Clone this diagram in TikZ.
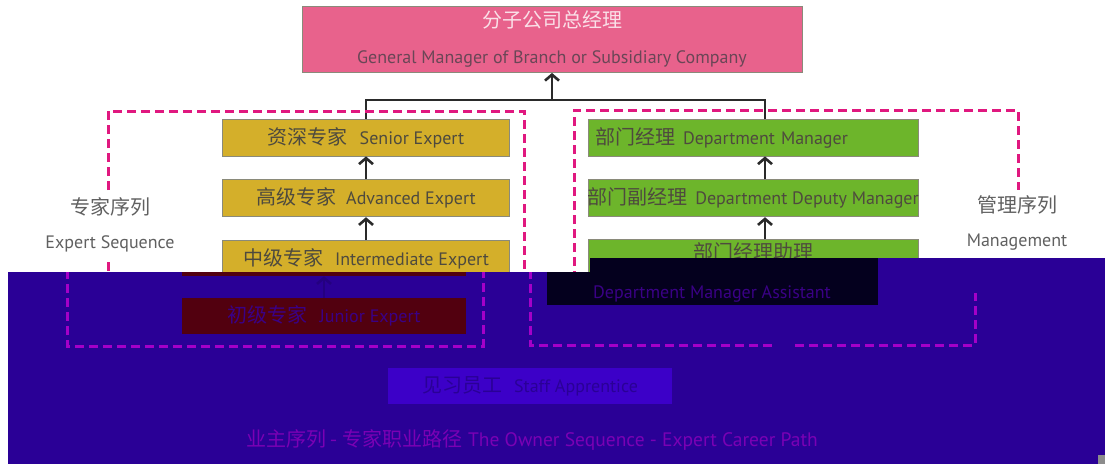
\documentclass[tikz,border=0pt]{standalone}
\usepackage{fontspec}
\setmainfont{PT Sans}
\newfontfamily\cjk{Noto Sans CJK SC}
\usetikzlibrary{arrows.meta,positioning}

\definecolor{gmpink}{HTML}{E8628C}
\definecolor{gmzh}{HTML}{FAE0E8}
\definecolor{gmen}{HTML}{6A4656}
\definecolor{expgold}{HTML}{D4AF2A}
\definecolor{mgrgreen}{HTML}{6DB52B}
\definecolor{boxline}{HTML}{8A8A7A}
\definecolor{boxtext}{HTML}{4E4A3E}
\definecolor{linkgray}{HTML}{2A2A2A}
\definecolor{dashpink}{HTML}{E0187F}
\definecolor{labelgray}{HTML}{606060}
% colours of the damaged lower band
\definecolor{glitchblue}{HTML}{2A0096}
\definecolor{glitchdash}{HTML}{A400C8}
\definecolor{glitchgold}{HTML}{52000F}
\definecolor{glitchgreen}{HTML}{04001E}
\definecolor{glitchentry}{HTML}{3C00C8}
\definecolor{glitchtext}{HTML}{3A0086}
\definecolor{glitchtitle}{HTML}{7A00B4}
\definecolor{glitchgray}{HTML}{8C8C8C}

\newcommand{\zhtxt}[1]{{\cjk\fontsize{20}{24}\selectfont #1}}

\begin{document}
\begin{tikzpicture}[
    x=1pt, y=-1pt,
    node distance=23pt,
    box/.style={draw=boxline, line width=0.8pt, rectangle, inner sep=0pt, text=boxtext, font=\fontsize{18}{22}\selectfont},
    gmbox/.style={box, fill=gmpink, text=gmen, minimum width=500pt, minimum height=66pt, align=center, font=\fontsize{18}{36}\selectfont},
    expbox/.style={box, fill=expgold, minimum width=287pt, minimum height=37pt},
    mgrbox/.style={box, fill=mgrgreen, minimum width=330pt, minimum height=37pt},
    arrow/.style={-{Straight Barb[length=6pt,width=14pt]}, line width=2.6pt, draw=linkgray},
    seqframe/.style={draw=dashpink, dash pattern=on 9pt off 5pt, line width=3pt},
    seqlabel/.style={text=labelgray, align=center, font=\fontsize{18}{34}\selectfont},
    lowbox/.style={rectangle, inner sep=0pt, text=glitchtext, font=\fontsize{18}{22}\selectfont}
]
\useasboundingbox (0,0) rectangle (1105,464);
\fill[white] (0,0) rectangle (1105,464);

\node[gmbox] (gm) at (552,39.5) {\zhtxt{\color{gmzh}分子公司总经理}\\General Manager of Branch or Subsidiary Company};

% expert sequence
\node[expbox] (senior) at (366,137.5) {\zhtxt{资深专家}\hspace{12pt}Senior Expert};
\node[expbox, below=of senior] (advanced) {\zhtxt{高级专家}\hspace{10pt}Advanced Expert};
\node[expbox, below=of advanced] (intermed) {\zhtxt{中级专家}\hspace{12pt}Intermediate Expert};

% management sequence
\node[mgrbox, text width=316pt, align=left] (deptmgr) at (753,137.5) {\zhtxt{部门经理}\hspace{8pt}Department Manager};
\node[mgrbox, below=of deptmgr, inner xsep=-2pt] (deputy) {\zhtxt{部门副经理}\hspace{8pt}Department Deputy Manager};
\node[mgrbox, below=22pt of deputy, minimum height=67pt, align=center, font=\fontsize{18}{40}\selectfont] (assist) {\zhtxt{部门经理助理}\\\phantom{Department Manager Assistant}};

\coordinate (fork) at (552,100);
\coordinate (mgrx) at (765,0);
\draw[line width=2.6pt, draw=linkgray] (senior.north) |- (fork) -| (deptmgr.north -| mgrx);
\draw[arrow] (fork) -- (gm.south);
\draw[arrow] (advanced) -- (senior);
\draw[arrow] (intermed) -- (advanced);
\draw[arrow] (deputy.north -| mgrx) -- (deptmgr.south -| mgrx);
\draw[arrow] (assist.north -| mgrx) -- (deputy.south -| mgrx);

% dashed frames
\draw[seqframe] (108,190) |- (524,111) -- (524,280);
\draw[seqframe] (108,262) -- (108,280);
\draw[seqframe] (574,280) |- (1018,110) -- (1018,190);
\node[seqlabel] (expseq) at (110,225) {\zhtxt{专家序列}\\Expert Sequence};
\node[seqlabel] (mgrseq) at (1017,223) {\zhtxt{管理序列}\\Management};

% damaged lower band, shifted to the left
\begin{scope}
  \clip (8,272) -- (590,272) -- (590,258) -- (1105,258) -- (1105,464) -- (8,464) -- cycle;
  \fill[glitchblue] (0,250) rectangle (1105,464);
  \draw[seqframe, draw=glitchdash] (67,270) |- (483,346) -- (483,270);
  \draw[seqframe, draw=glitchdash] (530,270) |- (775,345);
  \draw[seqframe, draw=glitchdash] (795,345) -| (975,293);
  \node[lowbox, fill=glitchgold, minimum width=284pt, minimum height=37pt] (intermedlow) at (324,257.5) {};
  \node[lowbox, fill=glitchgold, minimum width=284pt, minimum height=36pt] (juniorlow) at (324,316) {\zhtxt{初级专家}\hspace{12pt}Junior Expert};
  \draw[-{Straight Barb[length=6pt,width=14pt]}, line width=2.6pt, draw=glitchblue!85!black] (juniorlow) -- (intermedlow);
  \node[lowbox, fill=glitchgreen, minimum width=331pt, minimum height=67pt, align=center, font=\fontsize{18}{40}\selectfont] (assistlow) at (712,271.5) {\phantom{\zhtxt{部门经理助理}}\\Department Manager Assistant};
  \node[lowbox, fill=glitchentry, text=glitchblue, minimum width=284pt, minimum height=36pt] (entry) at (530,386) {\zhtxt{见习员工}\hspace{12pt}Staff Apprentice};
  \node[text=glitchtitle, font=\fontsize{19.5}{23}\selectfont] (title) at (532,440) {\zhtxt{业主序列 - 专家职业路径}\hspace{6pt}The Owner Sequence - Expert Career Path};
\end{scope}
\fill[glitchgray] (1098,455) rectangle (1105,464);
\end{tikzpicture}
\end{document}
